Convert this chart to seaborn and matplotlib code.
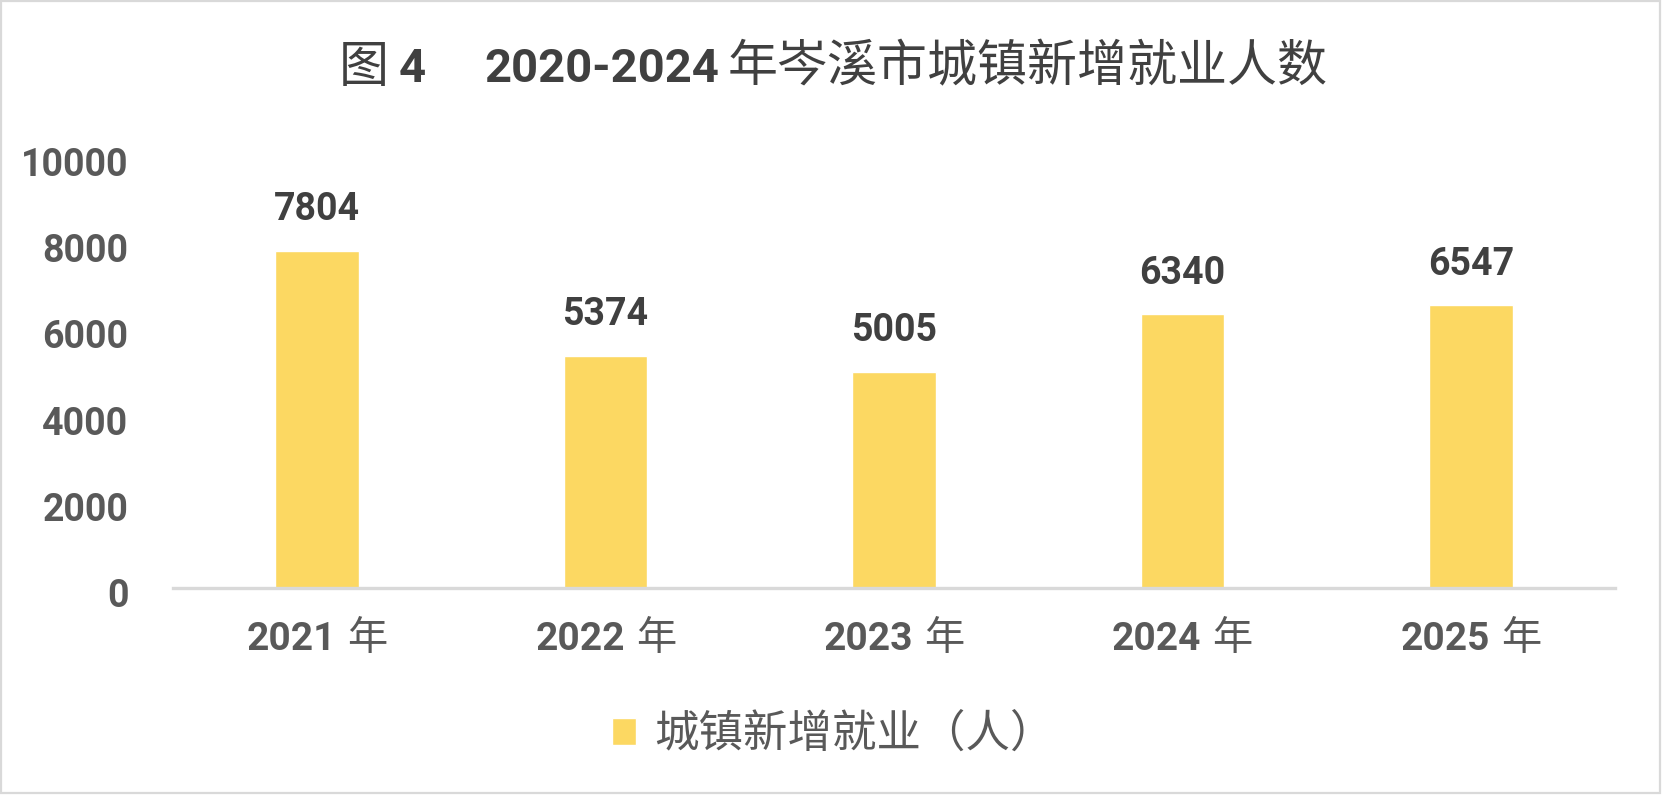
import matplotlib
matplotlib.use("Agg")
import matplotlib.pyplot as plt
from matplotlib.offsetbox import TextArea, HPacker, DrawingArea, AnnotationBbox
from matplotlib.patches import Rectangle
import matplotlib.transforms as mtransforms
import pandas as pd
import seaborn as sns

# data
years = ["2021", "2022", "2023", "2024", "2025"]
values = [7804, 5374, 5005, 6340, 6547]
series_name = "城镇新增就业（人）"
y_ticks = [0, 2000, 4000, 6000, 8000, 10000]

BAR_COLOR = "#FCD862"
TICK_COLOR = "#595959"
LABEL_COLOR = "#404040"
LATIN = "Roboto"
CJK = "Noto Sans CJK SC"

df = pd.DataFrame({"year": years, "value": values, "series": series_name})

sns.set_theme(style="white")
plt.rcParams["font.family"] = [LATIN, CJK, "DejaVu Sans"]

fig = plt.figure(figsize=(16.68, 7.98), dpi=100)
ax = fig.add_axes([0.1037, 0.2632, 0.8645, 0.5413])

sns.barplot(data=df, x="year", y="value", hue="series", palette=[BAR_COLOR],
            width=0.29, ax=ax, saturation=1)

ax.set_ylim(0, 10000)
ax.set_xlim(-0.5, len(years) - 0.5)
ax.set_xlabel("")
ax.set_ylabel("")
ax.set_yticks(y_ticks)
ax.set_yticklabels([str(t) for t in y_ticks])
ax.tick_params(axis="y", length=0, pad=32, labelsize=27, labelcolor=TICK_COLOR)
for lab in ax.get_yticklabels():
    lab.set_fontweight("bold")
    lab.set_family([LATIN, CJK])
    lab.set_transform(lab.get_transform() +
                      mtransforms.ScaledTranslation(0, -5 / 100, fig.dpi_scale_trans))
ax.set_xticks(range(len(years)))
ax.set_xticklabels([])
ax.tick_params(axis="x", length=0)

for side in ["top", "right", "left"]:
    ax.spines[side].set_visible(False)
ax.spines["bottom"].set_color("#D9D9D9")
ax.spines["bottom"].set_linewidth(2.4)


def mixed(parts, xy, xycoords):
    kids = []
    for p in parts:
        if isinstance(p, (int, float)):
            kids.append(DrawingArea(p, 1))
        else:
            text, size, weight, family, color = p
            kids.append(TextArea(text, textprops=dict(fontsize=size, fontweight=weight,
                                                      family=family, color=color)))
    box = HPacker(children=kids, pad=0, sep=0, align="baseline")
    ab = AnnotationBbox(box, xy, xycoords=xycoords, frameon=False,
                        box_alignment=(0.5, 0.5), pad=0)
    return ab


# x category labels: bold digits + light CJK
for i, y in enumerate(years):
    ab = mixed([(y, 28, "bold", LATIN, TICK_COLOR), 8,
                ("年", 29, "normal", CJK, TICK_COLOR)],
               (i, -0.118), ax.get_xaxis_transform())
    ax.add_artist(ab)

# data labels
for i, v in enumerate(values):
    ax.annotate(str(v), (i, v), xytext=(0, 22), textcoords="offset points",
                ha="center", va="baseline", fontsize=27, fontweight="bold",
                family=[LATIN, CJK], color=LABEL_COLOR)

# title
title = mixed([("图", 36, "normal", CJK, LABEL_COLOR), 7,
               ("4", 34, "bold", LATIN, LABEL_COLOR), 42,
               ("2020-2024", 34, "bold", LATIN, LABEL_COLOR), 6,
               ("年岑溪市城镇新增就业人数", 36, "normal", CJK, LABEL_COLOR)],
              (0.4995, 0.915), fig.transFigure)
fig.add_artist(title)

# legend
sns.move_legend(ax, loc="center", bbox_to_anchor=(0.4994, 0.080),
                bbox_transform=fig.transFigure, frameon=False, title=None,
                handlelength=0.55, handleheight=0.55,
                handletextpad=0.4, prop={"family": [CJK], "size": 32})
for t in ax.get_legend().get_texts():
    t.set_color(TICK_COLOR)

# chart border
fig.add_artist(Rectangle((1 / 1668, 5 / 798), 1659 / 1668, 792 / 798,
                         transform=fig.transFigure, fill=False,
                         edgecolor="#D9D9D9", linewidth=1.6))

fig.savefig("out.png", dpi=100, facecolor="white")
